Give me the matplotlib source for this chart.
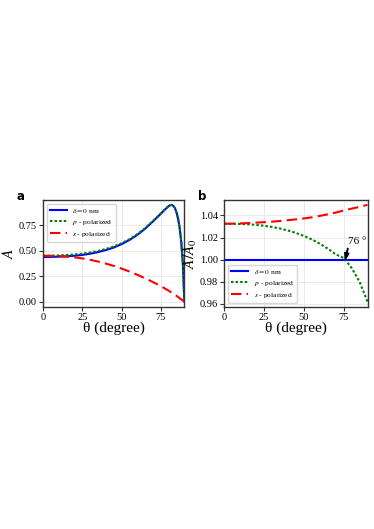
import numpy as np
import matplotlib
matplotlib.use('Agg')
import matplotlib.pyplot as plt

plt.rcParams['font.family'] = ['Liberation Serif', 'DejaVu Serif']
plt.rcParams['mathtext.fontset'] = 'stix'

# panel a : absorption vs angle
theta_a = [0, 5, 10, 15, 20, 25, 30, 35, 40, 45, 50, 55, 60, 65, 70, 75,
           77, 79, 80, 81, 82, 83, 84, 85, 86, 87, 88, 89, 90]
A_0nm = [0.440, 0.441, 0.443, 0.447, 0.452, 0.460, 0.472, 0.488, 0.508, 0.533,
         0.566, 0.607, 0.657, 0.718, 0.790, 0.865, 0.897, 0.927, 0.940, 0.950,
         0.952, 0.943, 0.920, 0.878, 0.815, 0.725, 0.590, 0.380, 0.0]
A_p = [0.452, 0.453, 0.455, 0.459, 0.464, 0.472, 0.484, 0.499, 0.519, 0.543,
       0.575, 0.615, 0.664, 0.724, 0.795, 0.869, 0.900, 0.929, 0.942, 0.951,
       0.953, 0.944, 0.921, 0.879, 0.816, 0.726, 0.591, 0.381, 0.0]
theta_s = [0, 5, 10, 15, 20, 25, 30, 35, 40, 45, 50, 55, 60, 65, 70, 75, 80, 85, 90]
A_s = [0.452, 0.451, 0.448, 0.443, 0.436, 0.426, 0.412, 0.395, 0.375, 0.352,
       0.326, 0.297, 0.265, 0.230, 0.193, 0.153, 0.108, 0.057, 0.0]

# panel b : normalised absorption A/A0
theta_b = [0, 5, 10, 15, 20, 25, 30, 35, 40, 45, 50, 55, 60, 65, 70, 75, 76, 80, 85, 90]
R_0nm = [1.0] * len(theta_b)
R_p = [1.0325, 1.0325, 1.0323, 1.0320, 1.0315, 1.0307, 1.0296, 1.0282, 1.0264, 1.0242,
       1.0215, 1.0183, 1.0145, 1.0100, 1.0048, 1.0015, 1.0000, 0.9925, 0.9800, 0.9620]
R_s = [1.0325, 1.0326, 1.0328, 1.0331, 1.0335, 1.0339, 1.0344, 1.0350, 1.0357, 1.0365,
       1.0373, 1.0383, 1.0396, 1.0410, 1.0426, 1.0445, 1.0449, 1.0462, 1.0478, 1.0496]

labels = [r'$\delta = 0$ nm', r'$p$ - polarized', r'$s$ - polarized']
leg_kw = dict(fontsize=5.4, handlelength=2.3, borderaxespad=0.5, labelspacing=0.4,
              handletextpad=0.7, borderpad=0.4, framealpha=0.8)

fig = plt.figure(figsize=(3.74, 5.29), dpi=100)
ax1 = fig.add_axes([0.115, 0.4206, 0.378, 0.2013])
ax2 = fig.add_axes([0.5997, 0.4206, 0.383, 0.2013])

for ax in (ax1, ax2):
    ax.grid(True, color='#e6e6e6', linewidth=0.6)
    ax.set_axisbelow(True)
    for sp in ax.spines.values():
        sp.set_color('#333333')
        sp.set_linewidth(1.0)
    ax.tick_params(labelsize=7.5, length=3, width=0.8, pad=1.5, color='#333333')
    ax.set_xlim(0, 90)
    ax.set_xticks([0, 25, 50, 75])
    ax.set_xlabel('θ (degree)', fontsize=11, labelpad=0)

ax1.plot(theta_a, A_0nm, color='blue', lw=1.5, label=labels[0])
ax1.plot(theta_a, A_p, color='green', lw=1.5, ls=(0, (1.2, 1.0)), label=labels[1])
ax1.plot(theta_s, A_s, color='red', lw=1.5, ls=(0, (5, 2.5)), label=labels[2])
ax1.set_yticks([0.0, 0.25, 0.5, 0.75])
ax1.set_yticklabels(['0.00', '0.25', '0.50', '0.75'])
ax1.set_ylabel(r'$A$', fontsize=11)
ax1.yaxis.set_label_coords(-0.19, 0.5)
ax1.legend(loc='upper left', **leg_kw)

ax2.plot(theta_b, R_0nm, color='blue', lw=1.5, label=labels[0])
ax2.plot(theta_b, R_p, color='green', lw=1.5, ls=(0, (1.2, 1.0)), label=labels[1])
ax2.plot(theta_b, R_s, color='red', lw=1.5, ls=(0, (5, 2.5)), label=labels[2])
ax2.set_yticks([0.96, 0.98, 1.00, 1.02, 1.04])
ax2.set_yticklabels(['0.96', '0.98', '1.00', '1.02', '1.04'])
ax2.set_ylabel(r'$A/A_0$', fontsize=11)
ax2.yaxis.set_label_coords(-0.175, 0.5)
ax2.legend(loc='lower left', **leg_kw)
ax2.annotate('76 °', xy=(76, 1.0), xytext=(78, 1.0145), fontsize=8,
             arrowprops=dict(facecolor='black', edgecolor='black', width=0.3,
                             headwidth=3, headlength=5, shrink=0.0))

fig.text(0.045, 0.622, 'a', fontsize=8.5, fontweight='bold', family='DejaVu Sans')
fig.text(0.530, 0.622, 'b', fontsize=8.5, fontweight='bold', family='DejaVu Sans')

fig.savefig('out.png', dpi=100)
